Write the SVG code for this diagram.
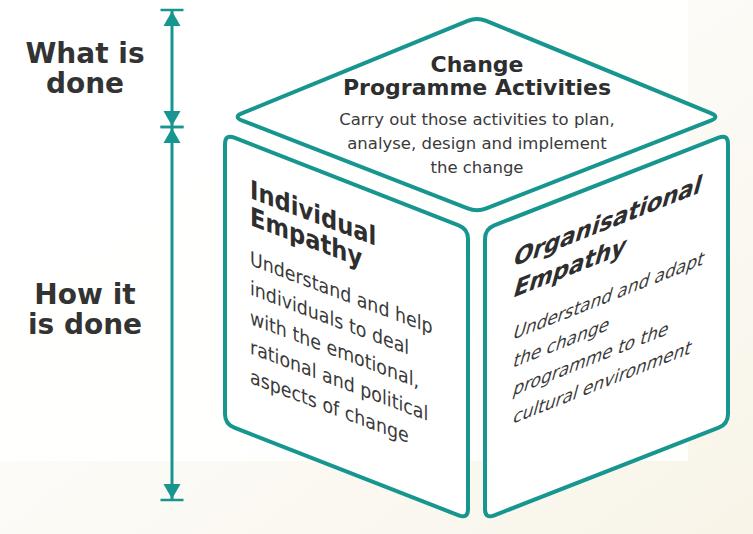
<svg xmlns="http://www.w3.org/2000/svg" width="753" height="534" viewBox="0 0 753 534">
  <defs>
    <linearGradient id="paper" x1="0" y1="0" x2="1" y2="1">
      <stop offset="0" stop-color="#ffffff"/>
      <stop offset="0.55" stop-color="#fcfaf5"/>
      <stop offset="1" stop-color="#f8f4e8"/>
    </linearGradient>
    <!-- dimension end: tick bar plus solid arrowhead -->
    <marker id="dim" viewBox="-20 -12 22 24" refX="0" refY="0" markerWidth="22" markerHeight="24" markerUnits="userSpaceOnUse" orient="auto-start-reverse">
      <path d="M0 -11.5 V 11.5" stroke="#17968f" stroke-width="2.5" fill="none"/>
      <path d="M-1 0 L-16 -8.5 L-16 8.5 Z" fill="#17968f"/>
    </marker>
    <style>
      .face { fill: #ffffff; stroke: #17968f; stroke-width: 4; stroke-linejoin: round; }
      .dim { stroke: #17968f; stroke-width: 3; fill: none; }
      .side { font-family: "DejaVu Sans", Verdana, sans-serif; font-weight: bold; font-size: 28px; fill: #333333; text-anchor: middle; }
      .title { font-family: "DejaVu Sans", Verdana, sans-serif; font-weight: bold; font-size: 22px; fill: #2e2e2e; }
      .body { font-family: "DejaVu Sans", Verdana, sans-serif; font-size: 16.5px; fill: #3a3a3a; }
      .ftitle { font-family: "DejaVu Sans", Verdana, sans-serif; font-weight: bold; font-size: 26px; fill: #2e2e2e; }
      .fbody { font-family: "DejaVu Sans", Verdana, sans-serif; font-size: 20px; fill: #3a3a3a; }
      .rbody { font-family: "DejaVu Sans", Verdana, sans-serif; font-size: 19.5px; fill: #3a3a3a; }
      .mid { text-anchor: middle; }
    </style>
  </defs>

  <!-- paper -->
  <rect x="0" y="0" width="753" height="534" fill="url(#paper)"/>
  <rect x="0" y="0" width="688" height="461" fill="#ffffff" opacity="0.85"/>

  <!-- side labels -->
  <g id="label-what">
    <text class="side" x="85" y="63">What is</text>
    <text class="side" x="85" y="93">done</text>
  </g>
  <g id="label-how">
    <text class="side" x="85" y="304">How it</text>
    <text class="side" x="85" y="334">is done</text>
  </g>

  <!-- dimension arrows -->
  <g id="connectors">
    <line class="dim" x1="172" y1="10" x2="172" y2="127" marker-start="url(#dim)" marker-end="url(#dim)"/>
    <line class="dim" x1="172" y1="127" x2="172" y2="500" marker-start="url(#dim)" marker-end="url(#dim)"/>
  </g>

  <!-- top face -->
  <g id="change-programme-activities">
    <path class="face" d="M 486.25 20.81 L 710.75 113.19 Q 720 117 710.69 120.64 L 486.31 208.36 Q 477 212 467.68 208.37 L 242.32 120.63 Q 233 117 242.25 113.21 L 467.75 20.79 Q 477 17 486.25 20.81 Z"/>
    <text class="title mid" x="477" y="72">Change</text>
    <text class="title mid" x="477" y="95">Programme Activities</text>
    <text class="body mid" x="477" y="125">Carry out those activities to plan,</text>
    <text class="body mid" x="477" y="149">analyse, design and implement</text>
    <text class="body mid" x="477" y="173">the change</text>
  </g>

  <!-- left face -->
  <g id="individual-empathy">
    <path class="face" d="M 234.31 137.64 L 458.69 225.36 Q 468 229 468 239 L 468 509 Q 468 519 458.69 515.36 L 234.31 427.64 Q 225 424 225 414 L 225 144 Q 225 134 234.31 137.64 Z"/>
    <g transform="matrix(0.87 0.33 0 1 250 198)">
      <text class="ftitle" x="0" y="0">Individual</text>
      <text class="ftitle" x="0" y="27">Empathy</text>
      <text class="fbody" x="0" y="67">Understand and help</text>
      <text class="fbody" x="0" y="96.5">individuals to deal</text>
      <text class="fbody" x="0" y="126">with the emotional,</text>
      <text class="fbody" x="0" y="155.5">rational and political</text>
      <text class="fbody" x="0" y="185">aspects of change</text>
    </g>
  </g>

  <!-- right face -->
  <g id="organisational-empathy">
    <path class="face" d="M 494.31 225.36 L 718.69 137.64 Q 728 134 728 144 L 728 414 Q 728 424 718.69 427.64 L 494.31 515.36 Q 485 519 485 509 L 485 239 Q 485 229 494.31 225.36 Z"/>
    <text class="ftitle" transform="matrix(0.87 -0.345 -0.27 1 512 267)">Organisational</text>
    <text class="ftitle" transform="matrix(0.87 -0.345 -0.27 1 512 298)">Empathy</text>
    <text class="rbody" transform="matrix(0.87 -0.345 -0.27 1 512 340)">Understand and adapt</text>
    <text class="rbody" transform="matrix(0.87 -0.345 -0.27 1 512 368)">the change</text>
    <text class="rbody" transform="matrix(0.87 -0.345 -0.27 1 512 396)">programme to the</text>
    <text class="rbody" transform="matrix(0.87 -0.345 -0.27 1 512 424)">cultural environment</text>
  </g>
</svg>
